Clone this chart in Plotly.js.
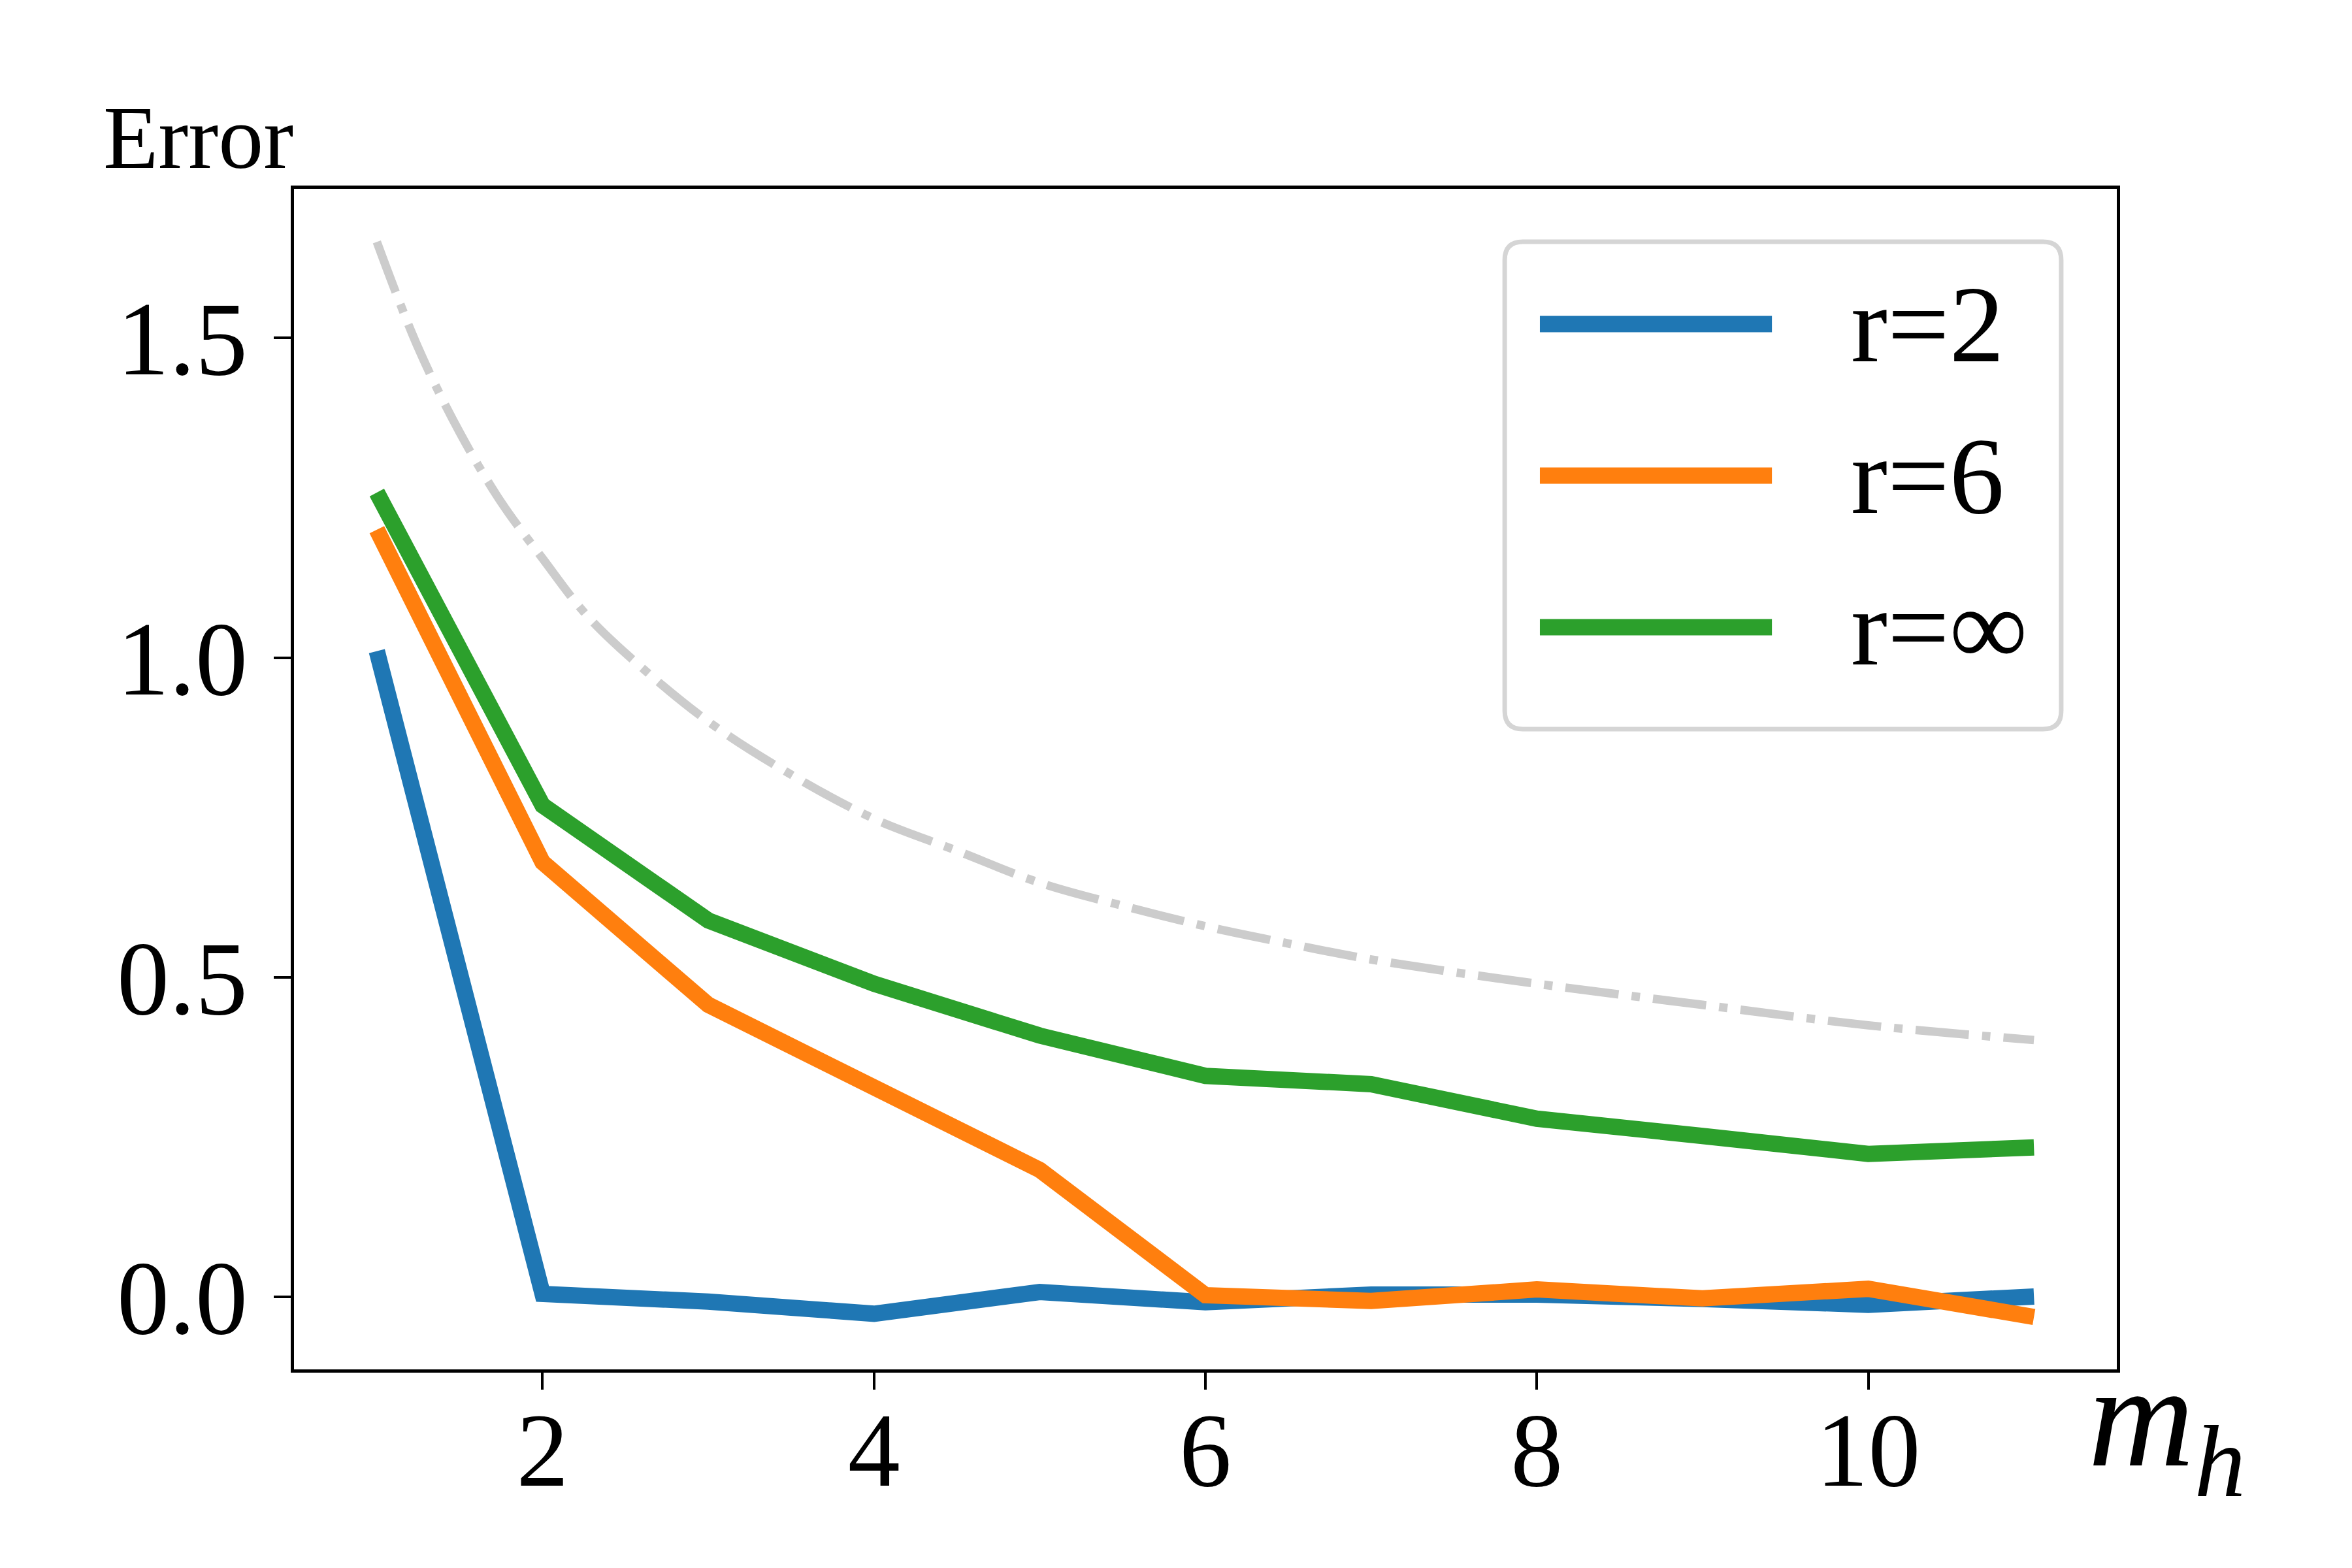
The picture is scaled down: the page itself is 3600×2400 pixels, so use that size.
<!DOCTYPE html>
<html>
<head>
<meta charset="utf-8">
<script src="https://cdn.plot.ly/plotly-3.0.1.min.js"></script>
<style>html,body{margin:0;padding:0;background:#fff;}</style>
</head>
<body>
<div id="chart" style="width:3600px;height:2400px;"></div>
<script>
// ---- data ----
const mh = [1, 2, 3, 4, 5, 6, 7, 8, 9, 10, 11];
const errR2 = [1.01, 0.005, -0.007, -0.026, 0.008, -0.008, 0.004, 0.004, -0.003, -0.012, 0.001];
const errR6 = [1.20, 0.680, 0.457, 0.328, 0.199, 0.003, -0.006, 0.012, -0.002, 0.013, -0.031];
const errRinf = [1.258, 0.769, 0.589, 0.490, 0.409, 0.346, 0.333, 0.279, 0.252, 0.224, 0.234];
const refX = [1, 1.25, 1.5, 1.75, 2, 2.25, 2.5, 3, 3.5, 4, 4.5, 5, 5.5, 6, 6.5, 7, 8, 9, 10, 11];
const refY = [1.650, 1.484, 1.352, 1.243, 1.155, 1.071, 1.007, 0.900, 0.817, 0.748, 0.698, 0.648, 0.612, 0.580, 0.553, 0.528, 0.490, 0.457, 0.425, 0.402];
const seriesNames = ["r=2", "r=6", "r=\u221E"];
const seriesColors = ["#1f77b4", "#ff7f0e", "#2ca02c"];
const xTicks = [2, 4, 6, 8, 10];
const yTicks = [0, 0.5, 1.0, 1.5];
const yTickText = ["0.0", "0.5", "1.0", "1.5"];

const FONT = "Liberation Serif, Times New Roman, serif";
const LW = 25;

const traces = [
  {x: refX, y: refY, mode: "lines", line: {color: "#cccccc", width: 13, dash: "82px,20px,13px,20px", shape: "spline", smoothing: 1}, hoverinfo: "skip", showlegend: false},
  {x: mh, y: errR2, mode: "lines", name: seriesNames[0], line: {color: seriesColors[0], width: LW}, showlegend: false},
  {x: mh, y: errR6, mode: "lines", name: seriesNames[1], line: {color: seriesColors[1], width: LW}, showlegend: false},
  {x: mh, y: errRinf, mode: "lines", name: seriesNames[2], line: {color: seriesColors[2], width: LW}, showlegend: false}
];

// legend box geometry (paper coords)
const bx0 = 0.6642, bx1 = 0.9695, by0 = 0.5423, by1 = 0.9552;
const rx = 0.0100, ry = 0.0155;
const boxPath = `M ${bx0+rx},${by1} L ${bx1-rx},${by1} Q ${bx1},${by1} ${bx1},${by1-ry} L ${bx1},${by0+ry} Q ${bx1},${by0} ${bx1-rx},${by0} L ${bx0+rx},${by0} Q ${bx0},${by0} ${bx0},${by0+ry} L ${bx0},${by1-ry} Q ${bx0},${by1} ${bx0+rx},${by1} Z`;

const rowY = [0.8855, 0.7571, 0.6287];
const shapes = [
  {type: "path", xref: "paper", yref: "paper", path: boxPath, fillcolor: "rgba(255,255,255,0.8)", line: {color: "#d5d5d5", width: 7}, layer: "above"}
];
const annotations = [];
for (let i = 0; i < 3; i++) {
  shapes.push({type: "line", xref: "paper", yref: "paper", x0: 0.6835, x1: 0.8108, y0: rowY[i], y1: rowY[i], line: {color: seriesColors[i], width: LW}, layer: "above"});
  annotations.push({xref: "paper", yref: "paper", x: 0.8534, y: rowY[i], xanchor: "left", yanchor: "middle", text: seriesNames[i], showarrow: false, font: {family: FONT, size: 168, color: "#000"}});
}
annotations.push({xref: "paper", yref: "paper", x: -0.1054, y: 1.0, xanchor: "left", yanchor: "bottom", text: "Error", showarrow: false, font: {family: FONT, size: 138, color: "#000"}});
annotations.push({xref: "paper", yref: "paper", x: 0.9835, y: -0.048, xanchor: "left", yanchor: "middle", text: "<i>m</i><sub><i>h</i></sub>", showarrow: false, font: {family: FONT, size: 225, color: "#000"}});

const layout = {
  width: 3600, height: 2400,
  margin: {l: 450, r: 360, t: 289, b: 304, pad: 0},
  paper_bgcolor: "#ffffff", plot_bgcolor: "#ffffff",
  showlegend: false,
  font: {family: FONT, color: "#000"},
  xaxis: {
    range: [0.5, 11.5], tickmode: "array", tickvals: xTicks,
    ticks: "outside", ticklen: 26, tickwidth: 4, tickcolor: "#000",
    showline: true, linecolor: "#000", linewidth: 5, mirror: true,
    showgrid: false, zeroline: false,
    tickfont: {family: FONT, size: 160, color: "#000"}, ticklabelstandoff: -45
  },
  yaxis: {
    range: [-0.113, 1.733], tickmode: "array", tickvals: yTicks, ticktext: yTickText,
    ticks: "outside", ticklen: 26, tickwidth: 4, tickcolor: "#000",
    showline: true, linecolor: "#000", linewidth: 5, mirror: true,
    showgrid: false, zeroline: false,
    tickfont: {family: FONT, size: 160, color: "#000"}, ticklabelstandoff: 8
  },
  shapes: shapes,
  annotations: annotations
};

Plotly.newPlot("chart", traces, layout, {staticPlot: true, displayModeBar: false});
</script>
</body>
</html>
